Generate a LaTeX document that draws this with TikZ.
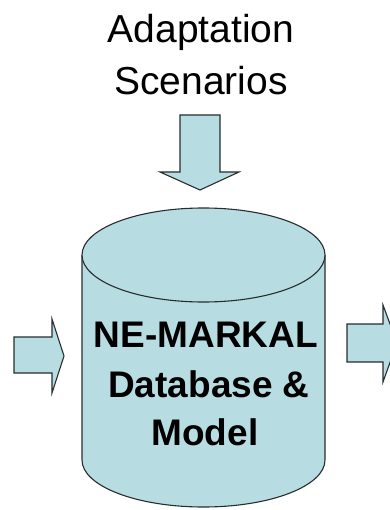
\documentclass[tikz,border=0pt]{standalone}
\usepackage{fontspec}
\setmainfont{Liberation Sans}
\definecolor{cylfill}{RGB}{183,221,226}
\definecolor{edge}{RGB}{40,45,45}
\begin{document}
\begin{tikzpicture}[x=1pt,y=-1pt,
  shapebox/.style={draw=edge,fill=cylfill,line width=1.1pt,line join=miter},
  toptext/.style={anchor=base,inner sep=0pt,font=\fontsize{39}{47}\selectfont},
  cyltext/.style={anchor=base,inner sep=0pt,font=\fontsize{37}{45}\selectfont\bfseries}]
\useasboundingbox (0,0) rectangle (389,510);
% top text
\node[toptext] (t1) at (201,43) {Adaptation};
\node[toptext] (t2) at (201,95) {Scenarios};
% down arrow
\draw[shapebox] (180,115) -- (220,115) -- (220,172) -- (239,172) -- (200,190) -- (160,172) -- (180,172) -- cycle;
% cylinder
\draw[shapebox] (82,255) -- (82,460) arc[start angle=180,end angle=0,x radius=121.5,y radius=47] -- (325,255);
\draw[shapebox] (203.5,255) ellipse[x radius=121.5,y radius=47];
% left arrow
\draw[shapebox] (14,337) -- (52,337) -- (52,319) -- (64,356) -- (52,393) -- (52,373) -- (14,373) -- cycle;
% right arrow
\draw[shapebox] (347,324) -- (383,324) -- (383,305) -- (397,343) -- (383,382) -- (383,362) -- (347,362) -- cycle;
% cylinder text
\node[cyltext] (c1) at (206,347) {NE-MARKAL};
\node[cyltext] (c2) at (209,397) {Database \&};
\node[cyltext] (c3) at (205,445) {Model};
\end{tikzpicture}
\end{document}
